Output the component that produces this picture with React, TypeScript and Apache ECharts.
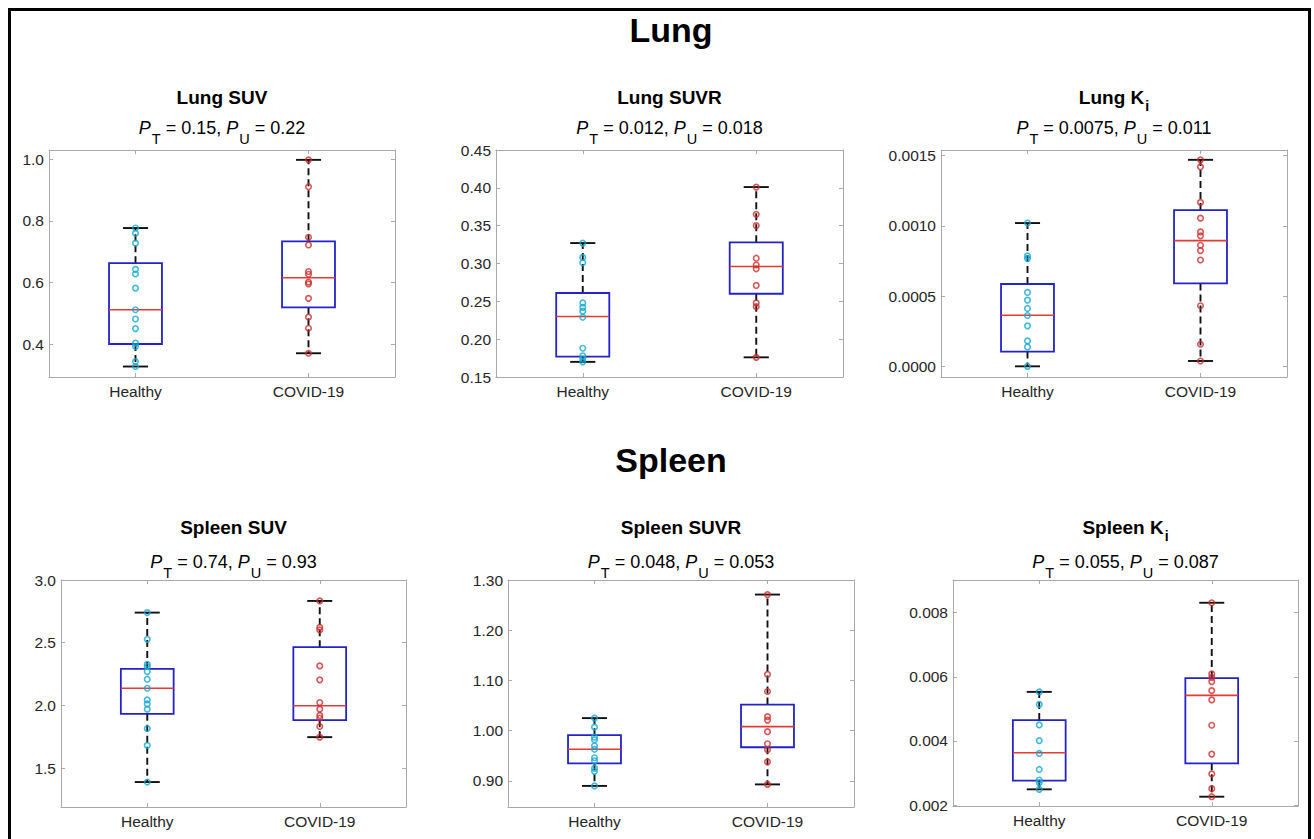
import React, { useEffect, useRef } from "react";
import * as echarts from "echarts";

const categories = ["Healthy", "COVID-19"];

// ---- Lung SUV ----
const lungSuvHealthy = [0.777, 0.76, 0.728, 0.643, 0.628, 0.582, 0.512, 0.482, 0.451, 0.404, 0.393, 0.344, 0.328];
const lungSuvCovid = [0.998, 0.911, 0.747, 0.722, 0.636, 0.627, 0.602, 0.596, 0.549, 0.488, 0.452, 0.371];
const lungSuvHealthyBox = [0.328, 0.401, 0.512, 0.663, 0.777];
const lungSuvCovidBox = [0.371, 0.52, 0.616, 0.734, 0.998];
const lungSuvTicks = [0.4, 0.6, 0.8, 1.0];

// ---- Lung SUVR ----
const lungSuvrHealthy = [0.327, 0.308, 0.301, 0.248, 0.242, 0.237, 0.229, 0.188, 0.178, 0.174, 0.17];
const lungSuvrCovid = [0.401, 0.365, 0.35, 0.307, 0.298, 0.293, 0.271, 0.248, 0.243, 0.176];
const lungSuvrHealthyBox = [0.17, 0.177, 0.23, 0.261, 0.327];
const lungSuvrCovidBox = [0.176, 0.26, 0.296, 0.328, 0.401];
const lungSuvrTicks = [0.15, 0.2, 0.25, 0.3, 0.35, 0.4, 0.45];

// ---- Lung Ki ----
const lungKiHealthy = [0.00102, 0.000786, 0.000767, 0.000526, 0.000471, 0.000412, 0.000362, 0.000288, 0.000181, 0.000138, 0.0];
const lungKiCovid = [0.00147, 0.00142, 0.001167, 0.001055, 0.000957, 0.000929, 0.000862, 0.000824, 0.000757, 0.000431, 0.000157, 0.000038];
const lungKiHealthyBox = [0.0, 0.000105, 0.000364, 0.000586, 0.00102];
const lungKiCovidBox = [0.000038, 0.00059, 0.000895, 0.001112, 0.00147];
const lungKiTicks = [0.0, 0.0005, 0.001, 0.0015];

// ---- Spleen SUV ----
const spleenSuvHealthy = [2.74, 2.527, 2.328, 2.31, 2.27, 2.209, 2.137, 2.044, 2.012, 1.97, 1.816, 1.681, 1.389];
const spleenSuvCovid = [2.833, 2.623, 2.602, 2.315, 2.204, 2.023, 1.97, 1.92, 1.898, 1.832, 1.747];
const spleenSuvHealthyBox = [1.389, 1.933, 2.137, 2.291, 2.74];
const spleenSuvCovidBox = [1.747, 1.882, 1.997, 2.464, 2.833];
const spleenSuvTicks = [1.5, 2.0, 2.5, 3.0];

// ---- Spleen SUVR ----
const spleenSuvrHealthy = [1.025, 1.007, 0.987, 0.982, 0.97, 0.963, 0.946, 0.94, 0.925, 0.919, 0.89];
const spleenSuvrCovid = [1.271, 1.112, 1.078, 1.028, 1.021, 0.998, 0.974, 0.962, 0.938, 0.893];
const spleenSuvrHealthyBox = [0.89, 0.935, 0.963, 0.991, 1.025];
const spleenSuvrCovidBox = [0.893, 0.967, 1.008, 1.052, 1.271];
const spleenSuvrTicks = [0.9, 1.0, 1.1, 1.2, 1.3];

// ---- Spleen Ki ----
const spleenKiHealthy = [0.00553, 0.00514, 0.0045, 0.00401, 0.00361, 0.00311, 0.00278, 0.0027, 0.00249];
const spleenKiCovid = [0.00831, 0.00609, 0.00598, 0.00585, 0.00557, 0.00528, 0.00449, 0.00359, 0.00297, 0.00251, 0.00226];
const spleenKiHealthyBox = [0.00249, 0.00276, 0.00363, 0.00465, 0.00553];
const spleenKiCovidBox = [0.00226, 0.0033, 0.00542, 0.00596, 0.00831];
const spleenKiTicks = [0.002, 0.004, 0.006, 0.008];

const FONT = "'Liberation Sans', Arial, Helvetica, sans-serif";
const FRAME = "#a9a9a9";
const LABEL = "#262626";
const CYAN = "#12a7d3";
const RED = "#cf2b2b";

type Panel = {
  name: string; // rich-text title
  pT: string; pU: string;
  healthy: number[]; covid: number[];
  hBox: number[]; cBox: number[];
  ticks: number[]; dec: number;
  min: number; max: number;
  grid: { left: number; top: number; width: number; height: number };
  titleY: number; pY: number;
};

const panels: Panel[] = [
  { name: "{b|Lung SUV}", pT: "0.15", pU: "0.22", healthy: lungSuvHealthy, covid: lungSuvCovid, hBox: lungSuvHealthyBox, cBox: lungSuvCovidBox, ticks: lungSuvTicks, dec: 1, min: 0.294, max: 1.03, grid: { left: 49, top: 150, width: 346, height: 227 }, titleY: 97, pY: 128 },
  { name: "{b|Lung SUVR}", pT: "0.012", pU: "0.018", healthy: lungSuvrHealthy, covid: lungSuvrCovid, hBox: lungSuvrHealthyBox, cBox: lungSuvrCovidBox, ticks: lungSuvrTicks, dec: 2, min: 0.15, max: 0.45, grid: { left: 496, top: 150, width: 347, height: 227 }, titleY: 97, pY: 128 },
  { name: "{b|Lung K}{bs|i}", pT: "0.0075", pU: "0.011", healthy: lungKiHealthy, covid: lungKiCovid, hBox: lungKiHealthyBox, cBox: lungKiCovidBox, ticks: lungKiTicks, dec: 4, min: -0.000076, max: 0.00154, grid: { left: 941, top: 150, width: 346, height: 227 }, titleY: 97, pY: 128 },
  { name: "{b|Spleen SUV}", pT: "0.74", pU: "0.93", healthy: spleenSuvHealthy, covid: spleenSuvCovid, hBox: spleenSuvHealthyBox, cBox: spleenSuvCovidBox, ticks: spleenSuvTicks, dec: 1, min: 1.19, max: 3.0, grid: { left: 61, top: 580, width: 345, height: 227 }, titleY: 527, pY: 562 },
  { name: "{b|Spleen SUVR}", pT: "0.048", pU: "0.053", healthy: spleenSuvrHealthy, covid: spleenSuvrCovid, hBox: spleenSuvrHealthyBox, cBox: spleenSuvrCovidBox, ticks: spleenSuvrTicks, dec: 2, min: 0.848, max: 1.3, grid: { left: 508, top: 580, width: 346, height: 227 }, titleY: 527, pY: 562 },
  { name: "{b|Spleen K}{bs|i}", pT: "0.055", pU: "0.087", healthy: spleenKiHealthy, covid: spleenKiCovid, hBox: spleenKiHealthyBox, cBox: spleenKiCovidBox, ticks: spleenKiTicks, dec: 3, min: 0.00197, max: 0.00902, grid: { left: 953, top: 580, width: 345, height: 226 }, titleY: 527, pY: 562 },
];

const renderBox = (params: any, api: any) => {
  const c = api.value(0);
  const mn = api.coord([c, api.value(1)]);
  const q1 = api.coord([c, api.value(2)]);
  const md = api.coord([c, api.value(3)]);
  const q3 = api.coord([c, api.value(4)]);
  const mx = api.coord([c, api.value(5)]);
  const band = api.size([1, 0])[0];
  const bw = band * 0.306;
  const cw = band * 0.145;
  const x = mn[0];
  const whisk = { stroke: "#111", lineWidth: 1.9, lineDash: [7, 4] };
  const cap = { stroke: "#111", lineWidth: 1.9 };
  return {
    type: "group",
    children: [
      { type: "line", shape: { x1: x, y1: q3[1], x2: x, y2: mx[1] }, style: whisk },
      { type: "line", shape: { x1: x, y1: q1[1], x2: x, y2: mn[1] }, style: whisk },
      { type: "line", shape: { x1: x - cw / 2, y1: mx[1], x2: x + cw / 2, y2: mx[1] }, style: cap },
      { type: "line", shape: { x1: x - cw / 2, y1: mn[1], x2: x + cw / 2, y2: mn[1] }, style: cap },
      { type: "rect", shape: { x: x - bw / 2, y: q3[1], width: bw, height: q1[1] - q3[1] }, style: { fill: "none", stroke: "#2323c8", lineWidth: 1.8 } },
      { type: "line", shape: { x1: x - bw / 2, y1: md[1], x2: x + bw / 2, y2: md[1] }, style: { stroke: "#e33a35", lineWidth: 1.6 } },
    ],
  };
};

const textStyle = (text: string, x: number, y: number, extra: any) => ({
  type: "text",
  x,
  y,
  style: {
    text,
    fontFamily: FONT,
    fill: "#000",
    align: "center",
    verticalAlign: "middle",
    textAlign: "center",
    textVerticalAlign: "middle",
    ...extra,
  },
});

function buildOption() {
  const grid: any[] = [];
  const xAxis: any[] = [];
  const yAxis: any[] = [];
  const series: any[] = [];
  const graphic: any[] = [];

  graphic.push({ type: "rect", shape: { x: 9.5, y: 9.5, width: 1300, height: 860 }, style: { fill: "none", stroke: "#000", lineWidth: 3 }, silent: true });
  graphic.push(textStyle("Lung", 671, 30, { fontSize: 34, fontWeight: "bold" }));
  graphic.push(textStyle("Spleen", 671, 460, { fontSize: 34, fontWeight: "bold" }));

  panels.forEach((p, i) => {
    grid.push({ ...p.grid, containLabel: false });
    const axisLineX = { show: true, onZero: false, lineStyle: { color: FRAME, width: 1 } };
    const axisLineY = { show: true, onZero: false, lineStyle: { color: FRAME, width: 1 } };
    xAxis.push({
      type: "category", gridIndex: i, data: categories, position: "bottom",
      axisLine: axisLineX, axisTick: { show: true, inside: true, alignWithLabel: true, length: 4, lineStyle: { color: FRAME } },
      axisLabel: { color: LABEL, fontSize: 15.5, fontFamily: FONT, margin: 6 },
      splitLine: { show: false },
    });
    xAxis.push({
      type: "category", gridIndex: i, data: categories, position: "top",
      axisLine: axisLineX, axisTick: { show: true, inside: true, alignWithLabel: true, length: 4, lineStyle: { color: FRAME } },
      axisLabel: { show: false }, splitLine: { show: false },
    });
    yAxis.push({
      type: "value", gridIndex: i, min: p.min, max: p.max, position: "left",
      axisLine: axisLineY, axisTick: { show: true, inside: true, length: 4, customValues: p.ticks, lineStyle: { color: FRAME } },
      axisLabel: { customValues: p.ticks, formatter: (v: number) => v.toFixed(p.dec), color: LABEL, fontSize: 15.5, fontFamily: FONT, margin: 5 },
      splitLine: { show: false },
    });
    yAxis.push({
      type: "value", gridIndex: i, min: p.min, max: p.max, position: "right",
      axisLine: axisLineY, axisTick: { show: true, inside: true, length: 4, customValues: p.ticks, lineStyle: { color: FRAME } },
      axisLabel: { show: false }, splitLine: { show: false },
    });
    series.push({
      type: "custom", xAxisIndex: 2 * i, yAxisIndex: 2 * i,
      renderItem: renderBox,
      encode: { x: 0, y: [1, 2, 3, 4, 5] },
      data: [[0, ...p.hBox], [1, ...p.cBox]],
      z: 2,
    });
    series.push({
      type: "scatter", xAxisIndex: 2 * i, yAxisIndex: 2 * i,
      data: p.healthy.map((v) => [0, v]),
      symbol: "circle", symbolSize: 5.5,
      itemStyle: { color: "rgba(0,0,0,0)", borderColor: CYAN, borderWidth: 1.6 },
      z: 3,
    });
    series.push({
      type: "scatter", xAxisIndex: 2 * i, yAxisIndex: 2 * i,
      data: p.covid.map((v) => [1, v]),
      symbol: "circle", symbolSize: 5.5,
      itemStyle: { color: "rgba(0,0,0,0)", borderColor: RED, borderWidth: 1.6 },
      z: 3,
    });

    const cx = p.grid.left + p.grid.width / 2;
    graphic.push(textStyle(p.name, cx, p.titleY, {
      rich: {
        b: { fontSize: 19, fontWeight: "bold", fontFamily: FONT, fill: "#000" },
        bs: { fontSize: 14, fontWeight: "bold", fontFamily: FONT, fill: "#000", padding: [18, 0, 0, 1] },
      },
    }));
    graphic.push(textStyle(`{i|P}{s|T}{n| = ${p.pT}, }{i|P}{s|U}{n| = ${p.pU}}`, cx, p.pY, {
      rich: {
        i: { fontSize: 18, fontStyle: "italic", fontFamily: FONT, fill: "#000" },
        n: { fontSize: 18, fontFamily: FONT, fill: "#000" },
        s: { fontSize: 14.5, fontFamily: FONT, fill: "#000", padding: [22, 0, 0, 1] },
      },
    }));
  });

  return {
    animation: false,
    backgroundColor: "#fff",
    grid,
    xAxis,
    yAxis,
    series,
    graphic: { elements: graphic },
  };
}

export default function App() {
  const ref = useRef<HTMLDivElement>(null);
  useEffect(() => {
    if (!ref.current) return;
    const chart = echarts.init(ref.current, undefined, { renderer: "svg" });
    chart.setOption(buildOption() as any);
    return () => chart.dispose();
  }, []);
  return (
    <div
      ref={ref}
      style={{ position: "fixed", left: 0, top: 0, width: 1314, height: 839, background: "#fff" }}
    />
  );
}
